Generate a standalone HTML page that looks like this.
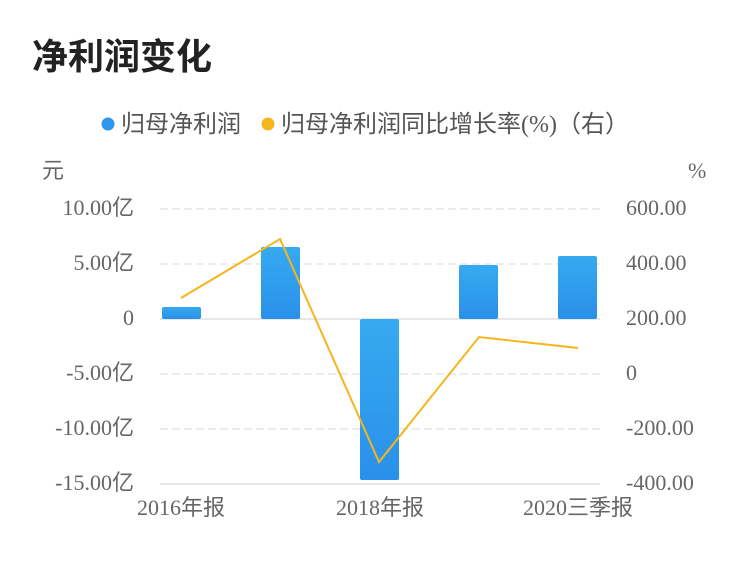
<!DOCTYPE html>
<html><head><meta charset="utf-8"><style>
body{margin:0;background:#fff;width:750px;height:558px;overflow:hidden}
</style></head><body>
<svg width="750" height="558" xmlns="http://www.w3.org/2000/svg">
<defs><linearGradient id="g" x1="0" y1="0" x2="0" y2="1"><stop offset="0" stop-color="#36aaf0"/><stop offset="1" stop-color="#2a90ea"/></linearGradient></defs>
<text x="32" y="69" font-family="'Liberation Sans','Noto Sans CJK SC',sans-serif" font-size="36" font-weight="bold" fill="#222">净利润变化</text>
<g font-family="'Liberation Serif','Noto Sans CJK SC',serif" font-size="24" fill="#555">
<circle cx="108" cy="124" r="6.5" fill="#2c97ec"/>
<text x="121" y="132">归母净利润</text>
<circle cx="268" cy="124" r="6.5" fill="#f6b51c"/>
<text x="281" y="132">归母净利润同比增长率(%)（右）</text>
</g>
<g font-family="'Liberation Serif','Noto Sans CJK SC',serif" font-size="22" fill="#666">
<text x="42" y="178">元</text>
<text x="688" y="178">%</text>
<g text-anchor="end">
<text x="134" y="215">10.00亿</text><text x="134" y="270">5.00亿</text><text x="134" y="325">0</text>
<text x="134" y="380">-5.00亿</text><text x="134" y="435">-10.00亿</text><text x="134" y="490">-15.00亿</text>
</g>
<text x="626" y="215">600.00</text><text x="626" y="270">400.00</text><text x="626" y="325">200.00</text>
<text x="626" y="380">0</text><text x="626" y="435">-200.00</text><text x="626" y="490">-400.00</text>
<g text-anchor="middle">
<text x="181" y="515">2016年报</text><text x="380" y="515">2018年报</text><text x="578" y="515">2020三季报</text>
</g>
</g>
<g stroke="#e6e6e6" stroke-width="1.5" stroke-dasharray="8,4">
<line x1="160" y1="209" x2="600" y2="209"/><line x1="160" y1="264" x2="600" y2="264"/>
<line x1="160" y1="374" x2="600" y2="374"/><line x1="160" y1="429" x2="600" y2="429"/>
</g>
<line x1="160" y1="319" x2="600" y2="319" stroke="#e0e0e0" stroke-width="1.5"/>
<line x1="160" y1="484" x2="600" y2="484" stroke="#e0e0e0" stroke-width="1.5"/>
<g fill="url(#g)">
<rect x="162" y="307" width="39" height="12" rx="2"/>
<rect x="261" y="247" width="39" height="72" rx="2"/>
<rect x="360" y="319" width="39" height="161" rx="2"/>
<rect x="459" y="265" width="39" height="54" rx="2"/>
<rect x="558" y="256" width="39" height="63" rx="2"/>
</g>
<polyline points="181,298 280,239 379,462 479,337 578,348" fill="none" stroke="#f6b51c" stroke-width="2"/>
</svg>
</body></html>
